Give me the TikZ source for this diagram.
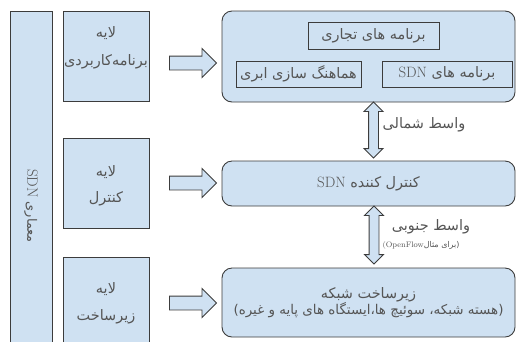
\documentclass[tikz,border=0pt]{standalone}
\usepackage{fontspec}
\TeXXeTstate=1
\newfontfamily\arabicfont[Script=Arabic]{DejaVu Sans}
\usetikzlibrary{shapes.arrows}
\newcommand\fa[1]{{\arabicfont\beginR #1\endR}}
\newcommand\lat[1]{\beginL{\rmfamily\fontsize{15}{17}\selectfont #1}\endL}
\definecolor{boxfill}{RGB}{207,225,242}
\definecolor{boxline}{RGB}{60,60,60}
\definecolor{txt}{RGB}{85,85,85}
\tikzset{
  box/.style={draw=boxline, fill=boxfill, line width=0.9bp, inner sep=0pt, text=txt},
  rbox/.style={box, rounded corners=10bp},
  big/.style={font=\fontsize{14.5}{17}\selectfont},
  lbl/.style={text=txt, inner sep=0pt, big},
  fat/.style={single arrow, draw=boxline, fill=boxfill, line width=0.9bp, minimum width=28bp,
    single arrow head extend=7.5bp, minimum height=47bp, inner xsep=0pt, inner ysep=6.5bp},
  dbl/.style={double arrow, draw=boxline, fill=boxfill, line width=0.9bp, minimum width=18bp,
    double arrow head extend=4.5bp, rotate=90, inner xsep=0pt, inner ysep=4.5bp}
}
\begin{document}
\begin{tikzpicture}[x=1bp,y=-1bp]
\useasboundingbox (0,0) rectangle (516,341);
\clip (0,0) rectangle (516,341);
% left bar
\node[box, minimum width=42bp, minimum height=339bp] (bar) at (31,180.5) {};
\node[lbl, rotate=-90, font=\fontsize{13}{15}\selectfont] (bartext) at (31,206) {\fa{معماری \lat{SDN}}};
% layer boxes
\node[box, minimum width=86bp, minimum height=90bp] (L1) at (106,56) {};
\node[box, minimum width=86bp, minimum height=90bp] (L2) at (106,183) {};
\node[box, minimum width=86bp, minimum height=90bp] (L3) at (106,302) {};
\node[lbl] (L1a) at (106,33) {\fa{لایه}};
\node[lbl] (L1b) at (106,62) {\fa{برنامه‌کاربردی}};
\node[lbl] (L2a) at (106,172) {\fa{لایه}};
\node[lbl] (L2b) at (106,199) {\fa{کنترل}};
\node[lbl] (L3a) at (106,289) {\fa{لایه}};
\node[lbl] (L3b) at (106,317) {\fa{زیرساخت}};
% block arrows
\node[fat] (a1) at (189.5,63) {};
\node[fat] (a2) at (189.5,183) {};
\node[fat] (a3) at (189.5,303) {};
% application box
\node[rbox, minimum width=293bp, minimum height=91bp] (A) at (368.5,56.5) {};
\node[box, big, minimum width=131bp, minimum height=27bp] (T) at (373.5,35.5) {\fa{برنامه های تجاری}};
\node[box, big, minimum width=125bp, minimum height=26bp] (LL) at (298.5,74) {\fa{هماهنگ سازی ابری}};
\node[box, big, minimum width=130bp, minimum height=26bp] (LR) at (447,74) {\fa{برنامه های \lat{SDN}}};
% controller
\node[rbox, big, minimum width=293bp, minimum height=45bp] (B) at (368.5,183.5) {\fa{کنترل کننده \lat{SDN}}};
% infrastructure
\node[rbox, big, minimum width=293bp, minimum height=69bp, align=center] (C) at (368.5,302.5)
  {\fa{زیرساخت شبکه}\\[-1pt]{\fontsize{13.5}{15}\selectfont\fa{(هسته شبکه، سوئیچ ها،ایستگاه های پایه و غیره)}}};
% interfaces
\node[dbl, minimum height=56bp] (n1) at (373.5,130) {};
\node[dbl, minimum height=58bp] (n2) at (374,235) {};
\node[lbl] (n1t) at (424,125) {\fa{واسط شمالی}};
\node[lbl] (n2t) at (431,227) {\fa{واسط جنوبی}};
\node[lbl, font=\fontsize{8}{9}\selectfont] (n2s) at (421,245)
  {\fa{(برای مثال\beginL{\rmfamily (OpenFlow}\endL}};
\end{tikzpicture}
\end{document}
